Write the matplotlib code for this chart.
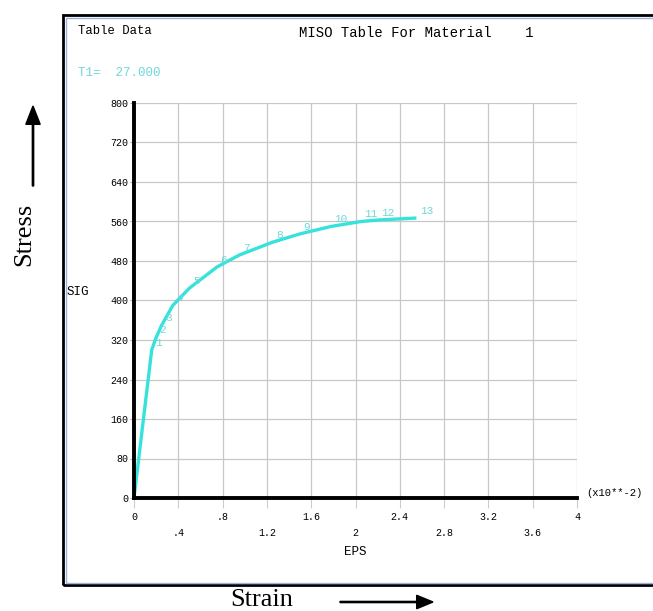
import matplotlib

matplotlib.use("Agg")
import matplotlib.pyplot as plt
from matplotlib.patches import Rectangle, FancyArrow

# MISO table points (strain in x10**-2, stress)
eps = [0.0, 0.16, 0.20, 0.25, 0.35, 0.50, 0.75, 0.95, 1.25, 1.50, 1.78, 2.05, 2.20, 2.55]
sig = [0, 300, 325, 350, 390, 425, 468, 492, 518, 535, 550, 560, 563, 567]
point_ids = ["", "1", "2", "3", "4", "5", "6", "7", "8", "9", "10", "11", "12", "13"]

x_row1 = [0, 0.8, 1.6, 2.4, 3.2, 4.0]
x_row1_lbl = ["0", ".8", "1.6", "2.4", "3.2", "4"]
x_row2 = [0.4, 1.2, 2.0, 2.8, 3.6]
x_row2_lbl = [".4", "1.2", "2", "2.8", "3.6"]
y_ticks = [0, 80, 160, 240, 320, 400, 480, 560, 640, 720, 800]

W, H = 653, 611
mono = "Liberation Mono"
serif = "Liberation Serif"
cyan = "#38e2dc"
label_cyan = "#6fd8d8"

fig = plt.figure(figsize=(W / 100, H / 100), dpi=100)

def fx(px):
    return px / W

def fy(py):
    return 1 - py / H

# outer frame of the ANSYS window
fig.patches.append(Rectangle((fx(63), fy(585)), fx(700) - fx(63), fy(15) - fy(585),
                             transform=fig.transFigure, fill=False,
                             edgecolor="black", linewidth=2))
fig.patches.append(Rectangle((fx(65.5), fy(582.5)), fx(700) - fx(65.5), fy(17.5) - fy(582.5),
                             transform=fig.transFigure, fill=False,
                             edgecolor="#9ab4dc", linewidth=1))

ax = fig.add_axes([fx(134), fy(498), fx(577) - fx(134), fy(103) - fy(498)])
ax.set_xlim(0, 4)
ax.set_ylim(0, 800)

for x in x_row1 + x_row2:
    ax.axvline(x, color="#c8c8c8", linewidth=0.9, zorder=1)
for y in y_ticks:
    ax.axhline(y, color="#c8c8c8", linewidth=0.9, zorder=1)

for s in ["top", "right"]:
    ax.spines[s].set_visible(False)
for s in ["left", "bottom"]:
    ax.spines[s].set_linewidth(2.8)
    ax.spines[s].set_color("black")
    ax.spines[s].set_zorder(5)

ax.set_yticks(y_ticks)
ax.set_yticklabels([str(v) for v in y_ticks], fontsize=7.2, family=mono)
ax.tick_params(axis="y", length=3, width=0.8, color="#aaaaaa", pad=1)
ax.set_xticks(x_row1 + x_row2)
ax.set_xticklabels([])
ax.tick_params(axis="x", length=7, width=0.8, color="#cccccc", direction="out")

for x, t in zip(x_row1, x_row1_lbl):
    ax.text(x, -38, t, ha="center", va="center", fontsize=7.2, family=mono)
for x, t in zip(x_row2, x_row2_lbl):
    ax.text(x, -70, t, ha="center", va="center", fontsize=7.2, family=mono)

ax.plot(eps, sig, color=cyan, linewidth=2.4, zorder=4, solid_capstyle="butt")
for x, y, t in zip(eps, sig, point_ids):
    if t:
        ax.annotate(t, (x, y), xytext=(2.5, 3), textcoords="offset points",
                    fontsize=8, family=mono, color=label_cyan, zorder=6)

fig.text(fx(78), fy(31), "Table Data", fontsize=8.8, family=mono, va="center")
fig.text(fx(416), fy(33), "MISO Table For Material    1", fontsize=10, family=mono,
         ha="center", va="center")
fig.text(fx(78), fy(73), "T1=  27.000", fontsize=9, family=mono, color=label_cyan,
         va="center")
fig.text(fx(67), fy(292), "SIG", fontsize=9, family=mono, va="center")
fig.text(fx(355), fy(552), "EPS", fontsize=9, family=mono, ha="center", va="center")
fig.text(fx(586), fy(493), "(x10**-2)", fontsize=7.6, family=mono, va="center")

fig.text(fx(24), fy(234), "Stress", fontsize=19, family=serif, rotation=90,
         ha="center", va="center")
fig.text(fx(262), fy(600), "Strain", fontsize=19, family=serif,
         ha="center", va="center")
fig.patches.append(FancyArrow(fx(33), fy(186), 0, fy(106) - fy(186), width=0.002,
                              head_width=0.022, head_length=0.03, length_includes_head=True,
                              transform=fig.transFigure, color="black"))
fig.patches.append(FancyArrow(fx(340), fy(602), fx(433) - fx(340), 0, width=0.002,
                              head_width=0.022, head_length=0.025, length_includes_head=True,
                              transform=fig.transFigure, color="black"))

fig.savefig("out.png", dpi=100)
